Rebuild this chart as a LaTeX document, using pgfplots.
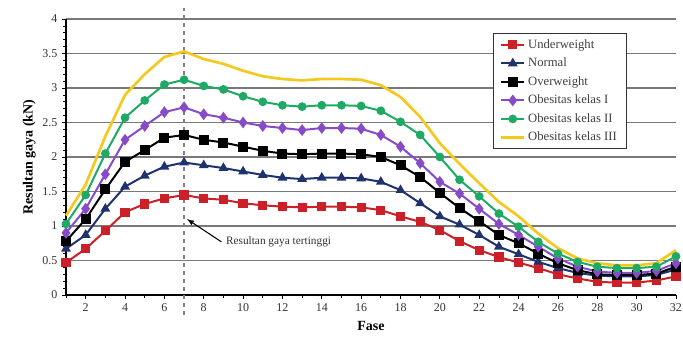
\documentclass[border=0pt]{standalone}
\usepackage{pgfplots}
\pgfplotsset{compat=1.18}
\usepackage{pgfplotstable}
\usepackage{fontspec}
\setmainfont{Liberation Serif}
\definecolor{cRed}{RGB}{204,32,40}
\definecolor{cBlue}{RGB}{30,50,110}
\definecolor{cPurple}{RGB}{135,75,200}
\definecolor{cGreen}{RGB}{30,170,100}
\definecolor{cYellow}{RGB}{245,200,30}
\pgfplotstableread{
x uw n ow oa ob oc
1 0.47 0.67 0.78 0.90 1.03 1.15
2 0.67 0.87 1.10 1.25 1.45 1.60
3 0.93 1.25 1.53 1.75 2.05 2.30
4 1.20 1.57 1.93 2.25 2.57 2.90
5 1.32 1.73 2.10 2.45 2.82 3.20
6 1.40 1.86 2.28 2.65 3.05 3.45
7 1.45 1.92 2.32 2.72 3.12 3.53
8 1.40 1.88 2.25 2.62 3.03 3.42
9 1.38 1.84 2.21 2.57 2.98 3.35
10 1.33 1.79 2.15 2.50 2.88 3.25
11 1.30 1.74 2.09 2.45 2.80 3.17
12 1.28 1.70 2.05 2.42 2.75 3.13
13 1.27 1.68 2.04 2.39 2.73 3.11
14 1.28 1.70 2.05 2.42 2.75 3.13
15 1.28 1.70 2.05 2.42 2.75 3.13
16 1.27 1.69 2.04 2.41 2.74 3.12
17 1.23 1.64 2.00 2.32 2.67 3.04
18 1.14 1.52 1.88 2.15 2.51 2.87
19 1.06 1.33 1.71 1.91 2.32 2.58
20 0.94 1.14 1.48 1.64 2.00 2.20
21 0.78 1.02 1.26 1.47 1.67 1.90
22 0.65 0.87 1.07 1.25 1.43 1.62
23 0.55 0.70 0.87 1.03 1.18 1.35
24 0.47 0.59 0.75 0.87 0.99 1.14
25 0.39 0.48 0.60 0.70 0.77 0.89
26 0.30 0.39 0.46 0.53 0.60 0.68
27 0.24 0.32 0.36 0.41 0.48 0.53
28 0.19 0.28 0.30 0.34 0.41 0.46
29 0.18 0.27 0.29 0.32 0.39 0.43
30 0.18 0.27 0.29 0.32 0.39 0.43
31 0.21 0.29 0.31 0.35 0.41 0.46
32 0.27 0.37 0.41 0.46 0.56 0.65
}\datatable
\begin{document}
\begin{tikzpicture}
\useasboundingbox (-49.5pt,-33.75pt) rectangle (462.75pt,221.25pt);
\begin{axis}[
  at={(0,0)}, anchor=south west,
  scale only axis,
  width=457.5pt, height=207pt,
  xmin=1, xmax=32, ymin=0, ymax=4,
  axis lines=left,
  axis line style={-, black, line width=0.8pt},
  xtick={2,4,...,32},
  minor xtick={1,...,32},
  ytick={0,0.5,...,4},
  yticklabels={0,0.5,1,1.5,2,2.5,3,3.5,4},
  minor y tick num=4,
  tick align=outside,
  major tick length=3pt, minor tick length=2pt,
  tick style={black, line width=0.6pt},
  ymajorgrids,
  major grid style={gray!95!black, line width=1.2pt},
  /pgf/number format/assume math mode=true,
  tick label style={font=\fontsize{9}{10}\selectfont, text=black!80},
  xlabel={\textbf{Fase}},
  ylabel={\textbf{Resultan gaya (kN)}},
  label style={font=\fontsize{10.5}{12}\selectfont},
  ylabel style={yshift=-2pt},
  clip=false,
  every axis plot/.append style={line width=1.5pt},
  legend style={at={(rel axis cs:0.70,0.949)}, anchor=north west,
    draw=black!80, line width=0.6pt, font=\fontsize{9.5}{11}\selectfont,
    row sep=1.8pt, inner xsep=5pt, inner ysep=2.5pt, text=black!75},
  legend cell align=left,
]
\draw[dashed, gray, line width=1pt] (axis cs:7,-0.29) -- (axis cs:7,4.16);
\addplot[cRed, mark=square*, mark size=2.7pt, mark options={solid}] table[x=x,y=uw]{\datatable};
\addlegendentry{Underweight}
\addplot[cBlue, mark=triangle*, mark size=2.8pt] table[x=x,y=n]{\datatable};
\addlegendentry{Normal}
\addplot[black, mark=square*, mark size=3pt] table[x=x,y=ow]{\datatable};
\addlegendentry{Overweight}
\addplot[cPurple, mark=diamond*, mark size=3.2pt] table[x=x,y=oa]{\datatable};
\addlegendentry{Obesitas kelas I}
\addplot[cGreen, mark=*, mark size=2.5pt] table[x=x,y=ob]{\datatable};
\addlegendentry{Obesitas kelas II}
\addplot[cYellow, mark=none, line width=2pt] table[x=x,y=oc]{\datatable};
\addlegendentry{Obesitas kelas III}
\draw[-{latex}, black, line width=0.8pt] (axis cs:8.9,0.77) -- (axis cs:7.15,1.1);
\node[anchor=west, font=\fontsize{8.5}{10}\selectfont, text=black!80, inner sep=1pt] at (axis cs:9.05,0.77) {Resultan gaya tertinggi};
\end{axis}
\end{tikzpicture}
\end{document}
